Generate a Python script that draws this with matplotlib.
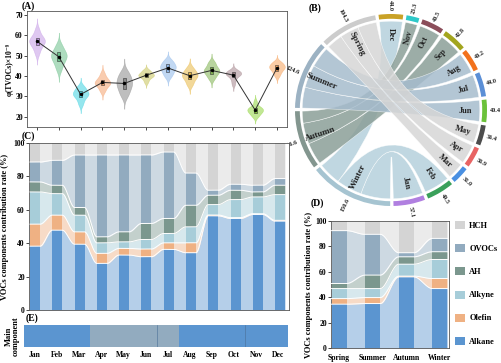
import numpy as np
import matplotlib
matplotlib.use("Agg")
import matplotlib.pyplot as plt
from matplotlib.path import Path
from matplotlib.patches import PathPatch, Patch, Wedge, Rectangle
from matplotlib.colors import to_rgba

plt.rcParams['font.family'] = ['Liberation Serif', 'DejaVu Serif']
plt.rcParams['font.weight'] = 'bold'
plt.rcParams['axes.labelweight'] = 'bold'
plt.rcParams['axes.linewidth'] = 0.6

# ---- data ----
months = ['Jan', 'Feb', 'Mar', 'Apr', 'May', 'Jun', 'Jul', 'Aug', 'Sep', 'Oct', 'Nov', 'Dec']
tvoc_mean = [57.1, 49.5, 31.0, 36.9, 36.4, 40.4, 44.0, 40.2, 42.8, 40.5, 23.3, 44.0]
tvoc_samples = [
    [51, 53.5, 55, 56, 57, 57.5, 58, 59, 60.5, 63],
    [43, 45.5, 47, 48.5, 49.5, 50, 51, 52, 53.5, 55.5],
    [26, 28, 29.5, 30.5, 31, 31.5, 32, 33, 34, 35],
    [32.5, 34, 35.5, 36, 36.5, 37, 37.5, 38.5, 39.5, 41.5],
    [30, 32, 33.5, 35, 36, 37, 38, 39.5, 40.5, 42.5],
    [37, 38.5, 39.5, 40, 40.3, 40.7, 41, 41.5, 42.5, 43],
    [39.5, 41, 42, 43, 44, 44.5, 45, 46, 47, 48],
    [35.5, 37, 38.5, 39.5, 40, 40.5, 41.5, 42, 43, 44.5],
    [38.5, 40, 41, 42, 42.5, 43, 43.5, 44.5, 46, 47],
    [36, 38, 39.5, 40.5, 41, 41.5, 42, 42.5, 43, 41],
    [20, 21, 22, 22.5, 23, 23.5, 24, 24.5, 25, 27.5],
    [40, 41.5, 42.5, 43.5, 44, 44.5, 45, 45.5, 46.5, 47],
]
violin_colors = ['#c59be6', '#6cc08b', '#3fd2e0', '#f5a26e', '#8a8a8a', '#c8c45a',
                 '#8fb8ea', '#e8b845', '#7fb24f', '#a5868d', '#8fd43c', '#f7a35c']
band_colors = {'Jan': '#b07fe0', 'Feb': '#3aa05a', 'Mar': '#4a90e2', 'Apr': '#e86464',
               'May': '#4d4d4d', 'Jun': '#6cc23a', 'Jul': '#5b8fd6', 'Aug': '#f2711c',
               'Sep': '#a3a51e', 'Oct': '#8b4e5a', 'Nov': '#2ec9c9', 'Dec': '#c9a227'}

seasons = ['Spring', 'Summer', 'Autumn', 'Winter']
season_months = {'Spring': ['Mar', 'Apr', 'May'], 'Summer': ['Jun', 'Jul', 'Aug'],
                 'Autumn': ['Sep', 'Oct', 'Nov'], 'Winter': ['Dec', 'Jan', 'Feb']}
ribbon_colors = {'Spring': '#d6d6d6', 'Summer': '#a6bccd', 'Autumn': '#8b9f98', 'Winter': '#b5d1dc'}
season_band = {'Spring': '#cccccc', 'Summer': '#9cb2c3', 'Autumn': '#83968f', 'Winter': '#a6c4d1'}

comp_names = ['Alkane', 'Olefin', 'Alkyne', 'AH', 'OVOCs', 'HCH']
comp_colors = ['#5b95d0', '#efb183', '#a7cdd9', '#7b978e', '#92abbf', '#d4d4d4']
alkane_m = [38.2, 47.8, 39.4, 27.9, 32.9, 31.9, 36.3, 34.3, 56.4, 54.8, 57.2, 53.2]
olefin_m = [13.2, 9.0, 7.4, 6.0, 4.0, 4.6, 3.9, 5.9, 0.5, 0.5, 0.5, 0.5]
alkyne_m = [19.3, 12.9, 10.0, 6.3, 3.9, 5.7, 5.6, 9.6, 6.2, 10.8, 10.0, 15.4]
ah_m = [6.0, 5.0, 4.6, 3.6, 6.0, 9.6, 9.0, 12.9, 5.6, 5.6, 3.0, 5.6]
ovocs_m = [11.9, 14.9, 31.4, 49.0, 46.0, 41.0, 39.8, 19.3, 3.0, 3.6, 4.0, 4.0]
hch_m = [11.4, 10.4, 7.2, 7.2, 7.2, 7.2, 5.4, 18.0, 28.3, 24.7, 25.3, 21.3]

alkane_s = [34.5, 35.0, 56.0, 46.8]
olefin_s = [4.4, 4.7, 0.6, 7.9]
alkyne_s = [7.9, 7.1, 9.4, 15.0]
ah_s = [4.0, 10.6, 5.8, 6.1]
ovocs_s = [41.6, 32.1, 3.2, 10.5]
hch_s = [7.6, 10.5, 25.0, 13.7]

W, H = 501, 363


def box(l, t, r, b):
    return [l / W, 1 - b / H, (r - l) / W, (b - t) / H]


fig = plt.figure(figsize=(W / 100, H / 100), dpi=100)

# ---------------- (A) violins ----------------
axA = fig.add_axes(box(27, 11, 287, 127))
for i, (s, c) in enumerate(zip(tvoc_samples, violin_colors)):
    s = np.array(s, dtype=float)
    bw = 0.55 * s.std()
    grid = np.linspace(s.min() - 3 * bw, s.max() + 3 * bw, 200)
    dens = np.exp(-0.5 * ((grid[:, None] - s[None, :]) / bw) ** 2).sum(axis=1)
    dens = dens / dens.max() * 0.36
    axA.fill_betweenx(grid, i - dens, i + dens, color=c, alpha=0.55, lw=0.4, zorder=2)
    q1, q3 = np.percentile(s, [25, 75])
    axA.add_patch(Rectangle((i - 0.07, q1), 0.14, q3 - q1, facecolor=c, edgecolor='#333333',
                            lw=0.4, zorder=3))
axA.plot(range(12), tvoc_mean, color='#333333', lw=0.7, zorder=4)
axA.plot(range(12), tvoc_mean, 'o', color='black', ms=1.5, zorder=5)
axA.set_xlim(-0.46, 11.46)
axA.set_ylim(15, 72)
axA.set_yticks([20, 30, 40, 50, 60, 70])
axA.set_xticks(range(12))
axA.set_xticklabels([])
axA.tick_params(labelsize=5.5, length=2, width=0.5, pad=1)
axA.set_ylabel('φ(TVOCs)×10⁻⁹', fontsize=5.5, labelpad=1)
for sp in axA.spines.values():
    sp.set_color('#555555')

# ---------------- (B) chord ----------------
axB = fig.add_axes(box(281, 0, 501, 220))
lim = 110 / 96
axB.set_xlim(-lim, lim)
axB.set_ylim(-lim, lim)
axB.axis('off')

order = ['Dec', 'Nov', 'Oct', 'Sep', 'Aug', 'Jul', 'Jun', 'May', 'Apr', 'Mar', 'Feb', 'Jan',
         'Winter', 'Autumn', 'Summer', 'Spring']
val = {m: v for m, v in zip(months, tvoc_mean)}
for sname in seasons:
    val[sname] = sum(val[m] for m in season_months[sname])
gap = 2.0
deg_per = (360 - gap * len(order)) / sum(val[k] for k in order)
arcs = {}
a = 97.5
for k in order:
    arcs[k] = (a, a - val[k] * deg_per)
    a = a - val[k] * deg_per - gap

r0 = 0.925


def pt(ang, r=r0):
    t = np.deg2rad(ang)
    return [r * np.cos(t), r * np.sin(t)]


def arc_pts(a1, a2, r=r0, n=24):
    return [pt(t, r) for t in np.linspace(a1, a2, n)]


# sub arcs inside each season (reverse of clockwise month order -> no crossing)
sub = {}
for sname in seasons:
    ms = [m for m in order if m in season_months[sname]][::-1]
    s1 = arcs[sname][0]
    for m in ms:
        sub[m] = (s1, s1 - val[m] * deg_per)
        s1 = s1 - val[m] * deg_per

for sname in ['Winter', 'Autumn', 'Summer', 'Spring']:
    for m in season_months[sname]:
        m1, m2 = arcs[m]
        s1, s2 = sub[m]
        verts = arc_pts(m1, m2)
        codes = [Path.MOVETO] + [Path.LINETO] * (len(verts) - 1)
        verts += [[0, 0], pt(s1)]
        codes += [Path.CURVE3, Path.CURVE3]
        sv = arc_pts(s1, s2)[1:]
        verts += sv
        codes += [Path.LINETO] * len(sv)
        verts += [[0, 0], pt(m1), pt(m1)]
        codes += [Path.CURVE3, Path.CURVE3, Path.CLOSEPOLY]
        axB.add_patch(PathPatch(Path(verts, codes), facecolor=to_rgba(ribbon_colors[sname], 0.85),
                                edgecolor=(1, 1, 1, 0.7), lw=0.4))


def rot(theta):
    t = theta % 360
    if 90 < t < 270:
        return t - 180, 'right'
    return t if t <= 90 else t - 360, 'left'


for k in order:
    a1, a2 = arcs[k]
    col = band_colors.get(k, season_band.get(k))
    axB.add_patch(Wedge((0, 0), 1.0, a2, a1, width=0.05, facecolor=col, edgecolor='none'))
    mid = (a1 + a2) / 2
    rt, ha = rot(mid)
    fs = 6.5 if k in seasons else 6
    axB.text(*pt(mid, 0.78), k, rotation=rt, rotation_mode='anchor', ha='center', va='center',
             fontsize=fs, color='#222222')
    axB.text(*pt(mid, 1.03), f'{val[k]:.1f}', rotation=rt, rotation_mode='anchor', ha=ha,
             va='center', fontsize=4.5, color='#222222', clip_on=False)


# ---------------- alluvial stacked bars ----------------
def curve(xs, ys, w, n=30):
    X, Y = [], []
    for i in range(len(xs)):
        X += [xs[i] - w / 2, xs[i] + w / 2]
        Y += [ys[i], ys[i]]
        if i < len(xs) - 1:
            t = np.linspace(0, 1, n)[1:-1]
            s = t * t * (3 - 2 * t)
            x0, x1 = xs[i] + w / 2, xs[i + 1] - w / 2
            X += list(x0 + (x1 - x0) * t)
            Y += list(ys[i] + (ys[i + 1] - ys[i]) * s)
    return np.array(X), np.array(Y)


def alluvial(ax, comps, w):
    xs = np.arange(len(comps[0]))
    cum = np.vstack([np.zeros(len(xs)), np.cumsum(np.array(comps), axis=0)])
    for j, c in enumerate(comp_colors):
        X, lo = curve(xs, cum[j], w)
        _, hi = curve(xs, cum[j + 1], w)
        ax.fill_between(X, lo, hi, color=c, alpha=0.45, lw=0, zorder=1)
        ax.bar(xs, comps[j], bottom=cum[j], width=w, color=c, lw=0, zorder=2)
    for j in range(1, len(comp_colors)):
        X, Y = curve(xs, cum[j], w)
        ax.plot(X, Y, color='white', lw=0.7, zorder=3)
    ax.set_ylim(0, 100)
    ax.set_yticks(range(0, 101, 20))
    ax.tick_params(labelsize=5.5, length=2, width=0.5, pad=1)
    for sp in ax.spines.values():
        sp.set_color('#555555')


comps_m = [alkane_m, olefin_m, alkyne_m, ah_m, ovocs_m, hch_m]
axC = fig.add_axes(box(29, 143, 289, 310))
alluvial(axC, comps_m, 0.45)
axC.set_xlim(-0.27, 11.4)
axC.set_xticks([])
axC.set_ylabel('VOCs components contribution rate (%)', fontsize=6, labelpad=3)

comps_s = [alkane_s, olefin_s, alkyne_s, ah_s, ovocs_s, hch_s]
axD = fig.add_axes(box(331, 221, 449, 348))
alluvial(axD, comps_s, 0.45)
axD.set_xlim(-0.24, 3.27)
axD.set_xticks(range(4))
axD.set_xticklabels(seasons)
axD.tick_params(axis='x', length=0, pad=4)
axD.set_ylabel('VOCs components contribution rate (%)', fontsize=6, labelpad=2)

handles = [Patch(facecolor=c, label=n) for n, c in zip(comp_names, comp_colors)][::-1]
fig.legend(handles=handles, loc='upper left', bbox_to_anchor=(455 / W, 1 - 221 / H),
           frameon=False, fontsize=6, handlelength=1.2, handleheight=1.1,
           labelspacing=1.72, handletextpad=0.5, borderaxespad=0, borderpad=0)

# ---------------- (E) main component ----------------
axE = fig.add_axes(box(24, 325, 288, 347))
main = [comp_names[int(np.argmax([c[i] for c in comps_m]))] for i in range(12)]
axE.bar(range(12), [1] * 12, width=1.0,
        color=[comp_colors[comp_names.index(m)] for m in main], lw=0)
for xv in [5.5, 9.5]:
    axE.axvline(xv, color='#4a6f96', lw=0.4)
axE.set_xlim(-0.5, 11.45)
axE.set_ylim(0, 1)
axE.set_yticks([])
axE.set_xticks(range(12))
axE.set_xticklabels(months)
axE.tick_params(axis='x', labelsize=5.5, length=0, pad=3)
for sp in axE.spines.values():
    sp.set_visible(False)
axE.set_ylabel('Main\ncomponent', fontsize=6, labelpad=3, linespacing=0.9)

for lab, x, y in [('(A)', 22, 6), ('(B)', 309, 8), ('(C)', 22, 136), ('(D)', 311, 203), ('(E)', 26, 318)]:
    fig.text(x / W, 1 - y / H, lab, fontsize=7, va='center', ha='left')

fig.savefig('out.png', dpi=100)
